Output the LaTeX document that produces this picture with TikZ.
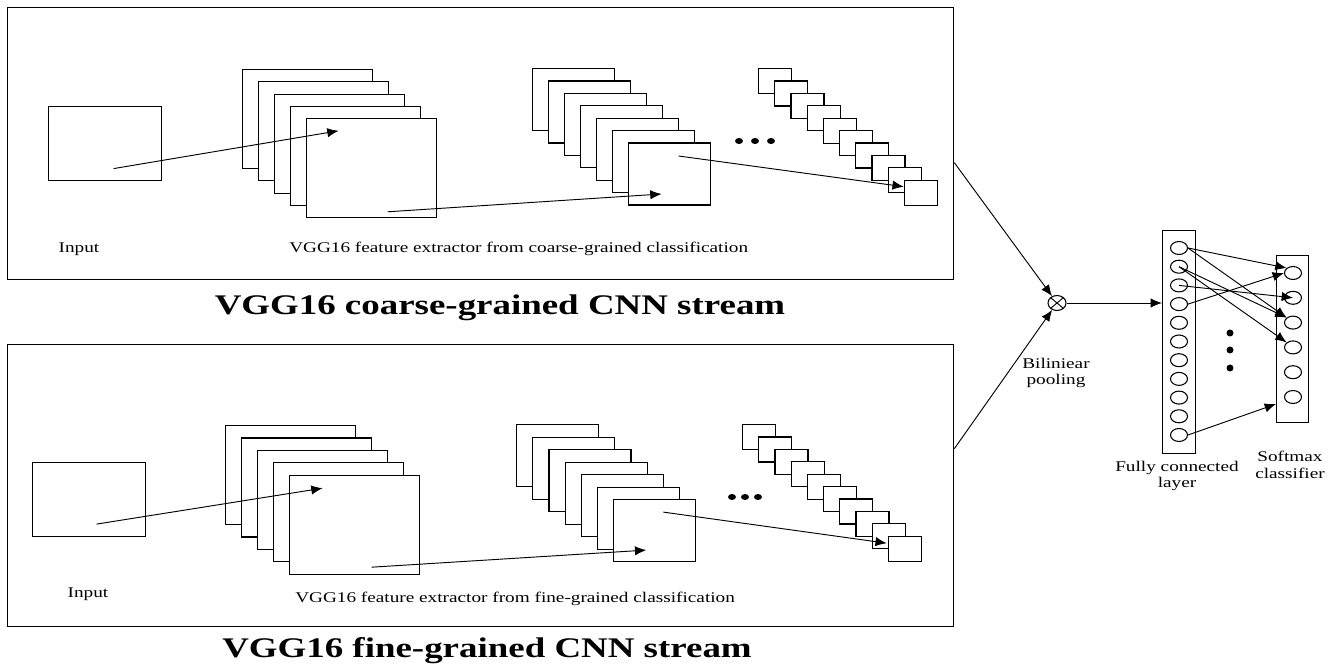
\documentclass[tikz,border=0pt]{standalone}
\usepackage{fontspec}
\setmainfont{Liberation Serif}[FakeStretch=1.3]
\usetikzlibrary{arrows.meta,calc,shapes.geometric}
\newcommand\pxu{0.75pt}
\tikzset{
  % frames round each stream
  stream/.style={draw,rectangle,line width=1pt,inner sep=0pt,anchor=north west,minimum width=946*\pxu},
  % feature maps
  fmap/.style={draw,fill=white,rectangle,line width=0.9pt,inner sep=0pt,anchor=north west},
  inmap/.style={fmap,minimum width=113*\pxu,minimum height=74*\pxu},
  bigmap/.style={fmap,minimum width=130*\pxu,minimum height=99*\pxu},
  midmap/.style={fmap,minimum width=82*\pxu,minimum height=62*\pxu},
  smallmap/.style={fmap,minimum width=33*\pxu,minimum height=25*\pxu},
  % classifier part
  layerbox/.style={draw,rectangle,line width=0.9pt,inner sep=0pt,anchor=north west,minimum width=33*\pxu},
  neuron/.style={draw,ellipse,line width=0.8pt,inner sep=0pt,minimum width=17*\pxu,minimum height=13*\pxu},
  bullet/.style={fill=black,ellipse,inner sep=0pt,minimum width=8*\pxu,minimum height=6*\pxu},
  % arrows and text
  conn/.style={-{Latex[length=8.5pt,width=7pt]},line width=0.7pt},
  lbl/.style={font=\fontsize{11.1}{12.5}\selectfont,align=center,inner sep=0pt},
  headline/.style={font=\fontsize{21.3}{25}\selectfont\bfseries,anchor=base,inner sep=0pt},
}

\begin{document}
\begin{tikzpicture}[x=\pxu,y=-\pxu]
  \useasboundingbox (0,0) rectangle (1336,670);

  % coarse-grained stream
  \node[stream,minimum height=272*\pxu] (strm-c) at (7,7) {};
  \node[inmap] (in-c) at (48,106) {};
  \foreach \i in {0,...,4} \node[bigmap] (c1-\i) at (242+16*\i,69+12.3*\i) {};
  \foreach \i in {0,...,6} \node[midmap] (c2-\i) at (532+16*\i,68+12.4*\i) {};
  \foreach \i in {0,...,9} \node[smallmap] (c3-\i) at (758+16.2*\i,68+12.4*\i) {};
  \foreach \x [count=\k] in {739,755,771} \node[bullet] (dc\k) at (\x,141) {};
  \draw[conn] ($(in-c.center)+(8.5,25)$) -- ($(c1-4.center)+(-33,-37.5)$);
  \draw[conn] ($(c1-4.center)+(16,43.5)$) -- ($(c2-6.center)+(-8,20)$);
  \draw[conn] ($(c2-6.center)+(9,-18)$) -- ($(c3-9.west)+(0,-6)$);
  \node[lbl] (inlbl-c) at (79,249) {Input};
  \node[lbl,anchor=west] (ext-c) at (289,249) {VGG16 feature extractor from coarse-grained classification};
  \node[headline] (name-c) at (500,315) {VGG16 coarse-grained CNN stream};

  % fine-grained stream
  \node[stream,minimum height=282*\pxu] (strm-f) at (7,344) {};
  \node[inmap] (in-f) at (32,462) {};
  \foreach \i in {0,...,4} \node[bigmap] (f1-\i) at (225+16*\i,425+12.4*\i) {};
  \foreach \i in {0,...,6} \node[midmap] (f2-\i) at (516+16.2*\i,424+12.5*\i) {};
  \foreach \i in {0,...,9} \node[smallmap] (f3-\i) at (742+16.2*\i,424+12.4*\i) {};
  \foreach \x [count=\k] in {732,745,758} \node[bullet] (df\k) at (\x,497) {};
  \draw[conn] ($(in-f.center)+(7.5,24.5)$) -- ($(f1-4.center)+(-32,-36.5)$);
  \draw[conn] ($(f1-4.center)+(17,42.5)$) -- ($(f2-6.center)+(-8.5,19.5)$);
  \draw[conn] ($(f2-6.center)+(8.5,-18.5)$) -- ($(f3-9.west)+(-1,-5.5)$);
  \node[lbl] (inlbl-f) at (88,594) {Input};
  \node[lbl,anchor=west] (ext-f) at (295,599) {VGG16 feature extractor from fine-grained classification};
  \node[headline] (name-f) at (487,657) {VGG16 fine-grained CNN stream};

  % bilinear pooling
  \node[neuron,minimum width=18*\pxu,minimum height=15*\pxu] (mrg) at (1057,303) {};
  \draw[line width=0.7pt] (mrg.north west) -- (mrg.south east) (mrg.north east) -- (mrg.south west);
  \draw[conn] ($(strm-c.east)+(0,19)$) -- (mrg);
  \draw[conn] ($(strm-f.east)+(0,-37)$) -- (mrg);
  \node[lbl] (bil) at (1056,373) {Biliniear\\pooling};

  % fully connected layer and softmax
  \node[layerbox,minimum height=223*\pxu] (fc) at (1162,230) {};
  \foreach \k in {1,...,11} \node[neuron] (n\k) at (1179,229.3+18.7*\k) {};
  \node[layerbox,minimum width=32*\pxu,minimum height=167*\pxu] (sm) at (1276,255) {};
  \foreach \k in {1,...,6} \node[neuron] (s\k) at (1293,248.2+24.8*\k) {};
  \foreach \y [count=\k] in {333,350,368} \node[bullet,minimum width=7*\pxu,minimum height=7*\pxu] (dv\k) at (1230,\y) {};
  \draw[conn] (mrg) -- (mrg -| fc.west);
  \draw[conn] (n1.east) -- (s1.north west);
  \draw[conn] (n1.east) -- (s3.north west);
  \draw[conn] (n2.center) -- (s3.north west);
  \draw[conn] (n2.center) -- (s4.north west);
  \draw[conn] (n3.center) -- (s2.center);
  \draw[conn] (n4.east) -- (s1.west);
  \draw[conn] (n11.east) -- (sm.west |- s6.south);
  \node[lbl] (fclbl) at (1177,476) {Fully connected\\layer};
  \node[lbl] (smlbl) at (1290,465) {Softmax\\classifier};
\end{tikzpicture}
\end{document}
